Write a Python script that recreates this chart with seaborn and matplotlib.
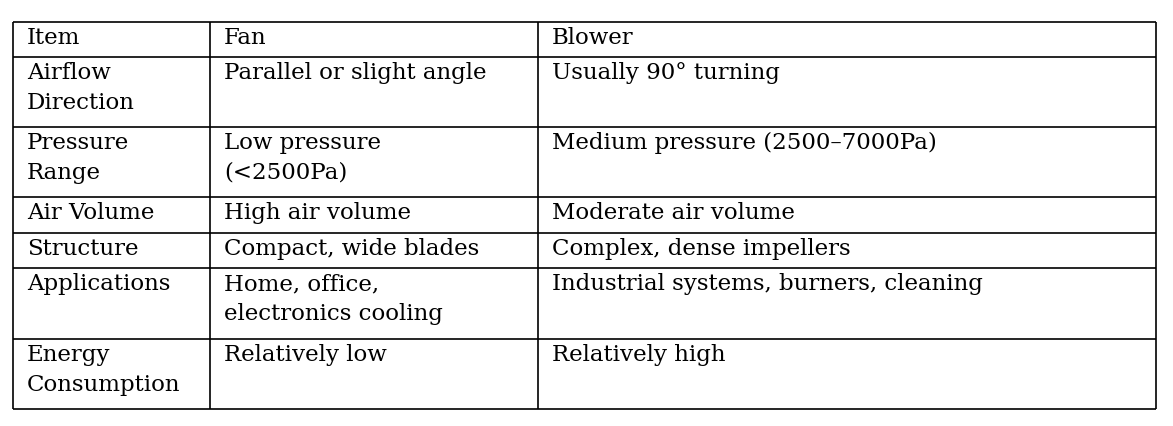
import matplotlib
matplotlib.use("Agg")
import matplotlib.pyplot as plt
import seaborn as sns

headers = ["Item", "Fan", "Blower"]
items = ["Airflow\nDirection", "Pressure\nRange", "Air Volume", "Structure", "Applications", "Energy\nConsumption"]
fan = ["Parallel or slight angle", "Low pressure\n(<2500Pa)", "High air volume", "Compact, wide blades",
       "Home, office,\nelectronics cooling", "Relatively low"]
blower = ["Usually 90° turning", "Medium pressure (2500–7000Pa)", "Moderate air volume",
          "Complex, dense impellers", "Industrial systems, burners, cleaning", "Relatively high"]

sns.set_style("white")
plt.rcParams['font.family'] = ['DejaVu Serif', 'Liberation Serif']

fig = plt.figure(figsize=(11.73, 4.26), dpi=100)
ax = fig.add_axes([0, 0, 1, 1])
ax.set_xlim(0, 1173)
ax.set_ylim(426, 0)
ax.axis("off")

col_edges = [13, 210, 538, 1156]
row_edges = [22, 57, 127, 197, 233, 268, 339, 409]
ax.hlines(row_edges, col_edges[0], col_edges[-1], color="black", lw=1.2)
ax.vlines(col_edges, row_edges[0], row_edges[-1], color="black", lw=1.2)

rows = [headers] + [list(r) for r in zip(items, fan, blower)]
for i, row in enumerate(rows):
    for j, txt in enumerate(row):
        ax.text(col_edges[j] + 14, row_edges[i] + 5, txt, va="top", ha="left",
                fontsize=16.5, linespacing=1.45, color="black")

fig.savefig("out.png", dpi=100)
